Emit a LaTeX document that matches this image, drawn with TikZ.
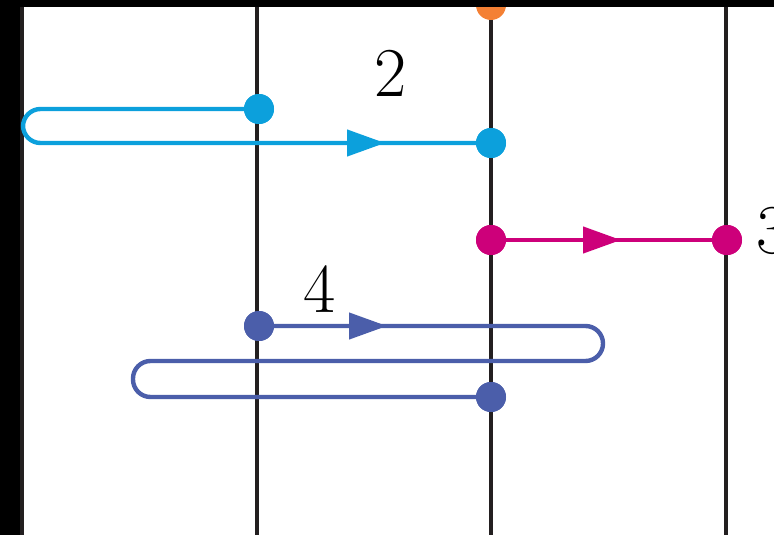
\documentclass[tikz,border=0pt]{standalone}
\usetikzlibrary{arrows.meta,decorations.markings}
\definecolor{ink}{RGB}{35,31,32}
\definecolor{lapcyan}{RGB}{12,160,220}
\definecolor{lapmagenta}{RGB}{205,0,122}
\definecolor{lapindigo}{RGB}{75,94,170}
\definecolor{laporange}{RGB}{244,128,52}
\begin{document}
\begin{tikzpicture}[x=0.5pt,y=-0.5pt,
    rail/.style={ink,line width=1.75pt},
    dot/.style={circle,inner sep=0pt,minimum size=15pt},
    wire/.style={line width=2.2pt,rounded corners=8.75pt},
    flowat/.style={postaction={decorate},decoration={markings,
        mark=at position #1 with {\arrow{Triangle[length=19pt,width=13pt]}}}},
    lbl/.style={inner sep=0pt,font=\fontsize{35}{40}\selectfont}]
    \useasboundingbox (0,0) rectangle (774,535);

    % rails
    \foreach \x in {22,257,491,726} {
        \draw[rail] (\x,0) -- (\x,535);
    }

    % dots
    \node[dot,fill=laporange] (o1) at (491,5) {};
    \node[dot,fill=lapcyan] (c1) at (259,109) {};
    \node[dot,fill=lapcyan] (c2) at (491,143) {};
    \node[dot,fill=lapmagenta] (m1) at (491,240) {};
    \node[dot,fill=lapmagenta] (m2) at (727,240) {};
    \node[dot,fill=lapindigo] (v1) at (259,326) {};
    \node[dot,fill=lapindigo] (v2) at (491,397) {};

    % loops
    \draw[wire,lapcyan,flowat=-53pt] (c1.center) -- (23,109) -- (23,143) -- (c2.center);
    \draw[wire,lapmagenta,flowat=-53pt] (m1.center) -- (m2.center);
    \draw[wire,lapindigo,flowat=64pt] (v1.center) -- (603,326) -- (603,361)
        -- (133,361) -- (133,397) -- (v2.center);

    % dots again on top
    \foreach \d/\c in {c1/lapcyan,c2/lapcyan,m1/lapmagenta,m2/lapmagenta,v1/lapindigo,v2/lapindigo} {
        \fill[\c] (\d) circle (7.5pt);
    }

    \node[lbl] (n2) at (391,73) {2};
    \node[lbl] (n4) at (320,289) {4};
    \node[lbl,anchor=west] (n3) at (756,231) {3};

    % frame edges
    \fill[black] (0,0) rectangle (20,535);
    \fill[black] (0,0) rectangle (774,7);
\end{tikzpicture}
\end{document}
